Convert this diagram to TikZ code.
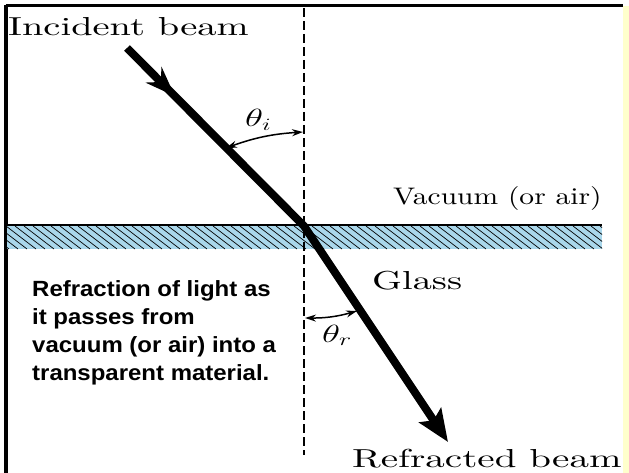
\documentclass[tikz,border=0pt]{standalone}
\usepackage{graphicx}
\usepackage{fontspec}
\newfontfamily\arialfont{Liberation Sans}
\newfontfamily\cmten{lmroman10-regular}[Extension=.otf]
\usetikzlibrary{arrows.meta,decorations.markings}
\definecolor{hatchblue}{RGB}{170,215,235}
\definecolor{stripyellow}{RGB}{255,255,204}
\begin{document}
\begin{tikzpicture}[x=1pt,y=-1pt,
  serifl/.style={inner sep=0pt, anchor=base west},
  boldl/.style={inner sep=0pt, anchor=base west, font=\arialfont\bfseries\fontsize{22}{26}\selectfont},
  beam/.style={line width=8pt, line join=miter},
  anglearr/.style={line width=1.5pt, {Stealth[length=11pt,width=7pt]}-{Stealth[length=11pt,width=7pt]}},
]
\useasboundingbox (0,0) rectangle (629,473);
\fill[white] (0,0) rectangle (629,473);
\fill[stripyellow] (623,6) rectangle (629,473);
\draw[line width=3pt] (5.5,5.5) -- (623,5.5);
\draw[line width=4pt] (5.5,5.5) -- (5.5,473);

% glass band
\fill[hatchblue] (7,226) rectangle (602,249);
\begin{scope}
  \clip (7,226) rectangle (602,249);
  \foreach \x in {-30,-21,...,610} \draw[line width=0.7pt] (\x,226) -- ++(30,23);
\end{scope}
\draw[line width=2pt] (7,225.5) -- (602,225.5);

% normal
\coordinate (ntop) at (304,8);
\coordinate (nbot) at (304,455);
\draw[dash pattern=on 9pt off 4pt, line width=1.3pt] (ntop) -- (nbot);

% beams
\coordinate (inc) at (127,48);
\coordinate (O) at (304,226);
\coordinate (ref) at (448,442);
\draw[beam, -{Stealth[length=32pt,width=26pt,inset=6pt]},
  postaction={decorate},
  decoration={markings, mark=at position 68pt with {\arrow{Stealth[length=30pt,width=22pt,inset=10pt]}}}]
  (inc) -- (O) -- (ref);

% angle arcs
\coordinate (ai1) at (226,148);
\coordinate (ai2) at (303,132);
\draw[anglearr] (ai1) to[bend left=8] (ai2);
\coordinate (ar1) at (305,318);
\coordinate (ar2) at (357,311);
\draw[anglearr] (ar1) to[bend right=8] (ar2);

\node[serifl] (thi) at (245,127) {\fontsize{24}{28}\selectfont\scalebox{1.5}[1]{$\theta_i$}};
\node[serifl] (thr) at (322,342) {\fontsize{24}{28}\selectfont\scalebox{1.5}[1]{$\theta_r$}};

% labels
\node[serifl] (tinc) at (8,36) {\cmten\fontsize{26}{30}\selectfont\scalebox{1.48}[1]{Incident beam}};
\node[serifl] (tvac) at (393,205) {\cmten\fontsize{24}{28}\selectfont\scalebox{1.23}[1]{Vacuum (or air)}};
\node[serifl] (tgla) at (372,289) {\cmten\fontsize{26}{30}\selectfont\scalebox{1.47}[1]{Glass}};
\node[serifl] (tref) at (352,467) {\cmten\fontsize{26}{30}\selectfont\scalebox{1.5}[1]{Refracted beam}};

\node[boldl] (c1) at (32,296) {\scalebox{1.09}[1]{Refraction of light as}};
\node[boldl] (c2) at (32,324) {\scalebox{1.09}[1]{it passes from}};
\node[boldl] (c3) at (32,352) {\scalebox{1.09}[1]{vacuum (or air) into a}};
\node[boldl] (c4) at (32,380) {\scalebox{1.09}[1]{transparent material.}};
\end{tikzpicture}
\end{document}
